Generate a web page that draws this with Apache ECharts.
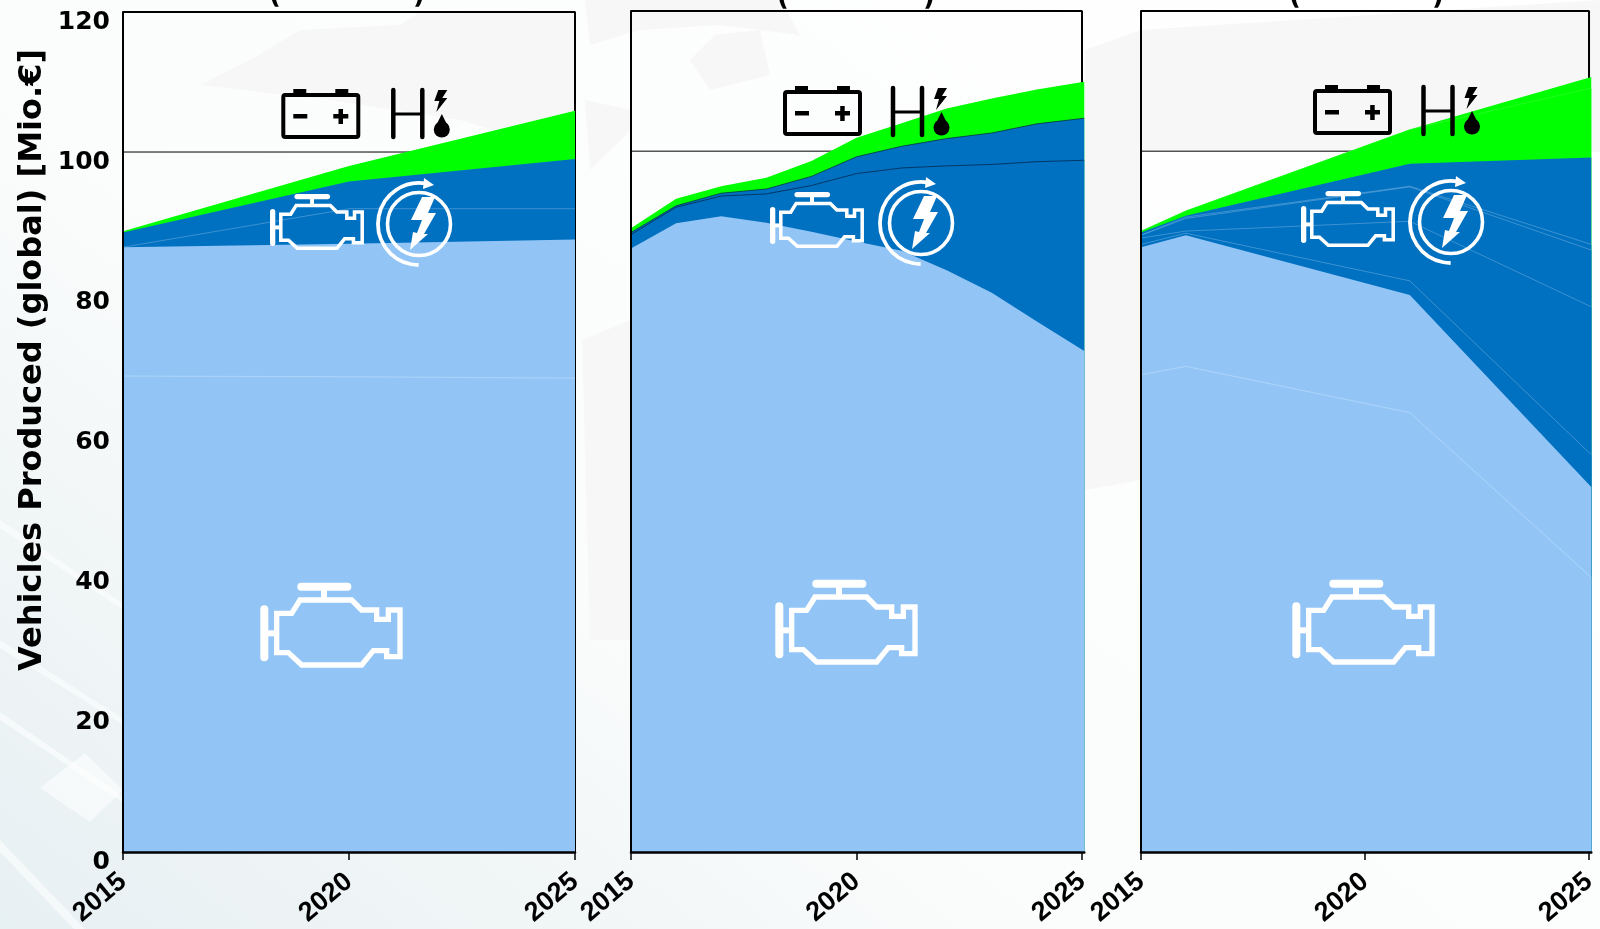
<!DOCTYPE html>
<html>
<head>
<meta charset="utf-8">
<title>Vehicles Produced</title>
<style>
  html, body { margin: 0; padding: 0; background: #fff; }
  #bg { position: absolute; left: 0; top: 0; width: 1600px; height: 929px;
    background: linear-gradient(38deg, #e7f0f3 0, #f0f5f6 18%, #fbfcfc 38%, #ffffff 100%); }
  #chart { position: absolute; left: 0; top: 0; width: 1600px; height: 929px; }
</style>
<script src="https://cdn.jsdelivr.net/npm/echarts@6/dist/echarts.min.js"></script>
</head>
<body>
<div id="bg"></div>
<div id="chart"></div>
<script>
// 2015-2025 axis, last point of the middle and right panel runs slightly past the frame
var yearsA = [2015, 2020, 2025];
var yearsB = [2015, 2016, 2017, 2018, 2019, 2020, 2021, 2022, 2023, 2024, 2025.05];
var yearsC = [2015, 2016, 2021, 2025.05];
var yearTicks = [2015, 2020, 2025];

// panel 1
var a_green = [88.7, 98.0, 105.9];
var a_hybrid = [88.5, 95.8, 99.0];
var a_hybridInner = [86.4, 91.9, 91.9];
var a_ice = [86.4, 86.9, 87.5];
var a_iceInner = [68.0, 67.9, 67.7];

// panel 2
var b_green = [89.0, 93.2, 95.0, 96.2, 98.6, 101.9, 104.0, 106.1, 107.5, 108.8, 109.9];
var b_hybrid = [88.4, 92.2, 94.0, 94.6, 96.4, 99.2, 100.7, 101.8, 102.6, 103.9, 104.7];
var b_hybridInner = [88.1, 92.0, 93.6, 93.9, 95.1, 96.8, 97.6, 97.9, 98.1, 98.5, 98.7];
var b_ice = [86.1, 89.7, 90.7, 89.8, 88.5, 87.1, 85.8, 83.0, 79.8, 75.7, 71.5];

// panel 3
var c_green = [88.6, 91.5, 103.1, 110.6];
var c_greenInner = [88.6, 91.5, 103.1, 109.0];
var c_hybrid = [88.4, 90.8, 98.2, 99.1];
var c_hybridB = [88.0, 90.6, 95.0, 86.7];
var c_hybridA = [88.0, 90.4, 94.9, 85.9];
var c_hybridC = [87.6, 88.6, 90.0, 77.8];
var c_hybridD = [86.7, 88.3, 81.5, 56.7];
var c_ice = [86.3, 88.0, 79.5, 52.1];
var c_iceInner = [68.1, 69.3, 62.7, 39.2];

var yTicks = [0, 120, 20];
var yTitle = 'Vehicles Produced (global) [Mio.€]';

var GREEN = '#00ff00', BLUE = '#0070c0', LIGHT = '#92c5f6';
var FAINT_D = 'rgba(190,220,245,.4)', FAINT_L = 'rgba(225,240,252,.45)', DARKLINE = 'rgba(0,30,60,.85)';

var panels = [
  { left: 123, right: 575, xMax: 2025, top: 12, bottom: 854, years: yearsA, labels: true, layers: [
    { v: a_green, fill: GREEN },
    { v: a_hybrid, fill: BLUE },
    { v: a_hybridInner, fill: BLUE, line: FAINT_D },
    { v: a_ice, fill: LIGHT },
    { v: a_iceInner, fill: LIGHT, line: FAINT_L }
  ]},
  { left: 631, right: 1082, xMax: 2025.05, top: 11, bottom: 852, years: yearsB, labels: false, layers: [
    { v: b_green, fill: GREEN },
    { v: b_hybrid, fill: BLUE, line: DARKLINE },
    { v: b_hybridInner, fill: BLUE, line: DARKLINE },
    { v: b_ice, fill: LIGHT }
  ]},
  { left: 1141, right: 1593, xMax: 2025.05, top: 11, bottom: 853, years: yearsC, labels: false, layers: [
    { v: c_green, fill: GREEN },
    { v: c_greenInner, fill: GREEN, line: 'rgba(120,255,120,.35)' },
    { v: c_hybrid, fill: BLUE },
    { v: c_hybridB, fill: BLUE, line: FAINT_D },
    { v: c_hybridA, fill: BLUE, line: FAINT_D },
    { v: c_hybridC, fill: BLUE, line: FAINT_D },
    { v: c_hybridD, fill: BLUE, line: FAINT_D },
    { v: c_ice, fill: LIGHT },
    { v: c_iceInner, fill: LIGHT, line: FAINT_L }
  ]}
];

var grids = [], xAxes = [], yAxes = [], series = [];

function frameLine(i, data, width) {
  return {
    type: 'line', xAxisIndex: i, yAxisIndex: i, silent: true, clip: false, z: 1,
    showSymbol: false, animation: false, data: data,
    lineStyle: { color: '#000', width: width }
  };
}

panels.forEach(function (p, i) {
  var perYear = (p.right - p.left) / 10;
  grids.push({
    left: p.left, top: p.top, width: (p.right - p.left) + (p.xMax - 2025) * perYear, height: p.bottom - p.top,
    show: false
  });
  xAxes.push({
    type: 'value', gridIndex: i, min: 2015, max: p.xMax, z: 30,
    axisLine: { show: true, lineStyle: { color: '#000', width: 2.5 } },
    axisTick: { show: true, length: 8, customValues: yearTicks, lineStyle: { color: '#000', width: 1.5 } },
    splitLine: { show: false },
    axisLabel: {
      rotate: 40, margin: 26, color: '#000', customValues: yearTicks,
      fontFamily: 'Liberation Sans', fontWeight: 'bold', fontSize: 27,
      formatter: function (v) { return String(v); }
    }
  });
  yAxes.push({
    type: 'value', gridIndex: i, min: yTicks[0], max: yTicks[1], interval: yTicks[2], z: 30,
    axisLine: { show: true, lineStyle: { color: '#000', width: 2 } },
    axisTick: { show: false },
    splitLine: { show: false },
    axisLabel: {
      show: p.labels, margin: 13, color: '#000',
      fontFamily: 'DejaVu Sans', fontWeight: 'bold', fontSize: 25,
      verticalAlign: 'top', lineHeight: 20,
      showMinLabel: true, showMaxLabel: true
    }
  });
  // frame and the 100 line sit under the areas
  series.push(frameLine(i, [[2015, 100], [2025, 100]], 1));
  series.push(frameLine(i, [[2015, 120], [2025, 120], [2025, 0]], 2));
  p.layers.forEach(function (l, k) {
    series.push({
      type: 'line', xAxisIndex: i, yAxisIndex: i, silent: true, clip: false, z: 2 + k,
      showSymbol: false, animation: false,
      data: p.years.map(function (y, n) { return [y, l.v[n]]; }),
      areaStyle: { color: l.fill, opacity: 1 },
      lineStyle: l.line ? { color: l.line, width: 0.8 } : { width: 0 }
    });
  });
});

// pictograms, in the pixel space of the zoomed crops
function icon(ox, oy, s, children) {
  children.forEach(function (c) { c.z = 50; c.silent = true; });
  return { type: 'group', x: ox, y: oy, scaleX: s, scaleY: s, children: children };
}

function engine(ox, oy, s) {
  var w = { stroke: '#fff', fill: 'none', lineWidth: 16 };
  var round = { stroke: '#fff', fill: 'none', lineWidth: 24, lineCap: 'round' };
  return icon(ox, oy, s / 3, [
    { type: 'polygon', shape: { points: [[110,160],[155,160],[180,120],[335,120],[365,150],[410,150],[410,178],[445,178],[445,150],[480,150],[480,290],[440,290],[440,272],[400,272],[365,315],[185,315],[145,278],[110,278]] }, style: w },
    { type: 'line', shape: { x1: 73, y1: 148, x2: 73, y2: 292 }, style: round },
    { type: 'line', shape: { x1: 80, y1: 220, x2: 110, y2: 220 }, style: { stroke: '#fff', lineWidth: 18 } },
    { type: 'line', shape: { x1: 184, y1: 80, x2: 322, y2: 80 }, style: round },
    { type: 'line', shape: { x1: 252, y1: 85, x2: 252, y2: 120 }, style: { stroke: '#fff', lineWidth: 18 } }
  ]);
}

function battery(ox, oy) {
  var k = { stroke: '#000', fill: 'none', lineWidth: 4 };
  return icon(ox, oy, 1, [
    { type: 'rect', shape: { x: 0, y: 0, width: 75, height: 42, r: 2 }, style: k },
    { type: 'rect', shape: { x: 10, y: -6, width: 13, height: 6 }, style: { fill: '#000' } },
    { type: 'rect', shape: { x: 52, y: -6, width: 13, height: 6 }, style: { fill: '#000' } },
    { type: 'rect', shape: { x: 10, y: 19, width: 14, height: 4.5 }, style: { fill: '#000' } },
    { type: 'rect', shape: { x: 50, y: 19, width: 15, height: 4.5 }, style: { fill: '#000' } },
    { type: 'rect', shape: { x: 55.2, y: 14, width: 4.5, height: 15 }, style: { fill: '#000' } }
  ]);
}

function hydrogen(ox, oy) {
  var k = { stroke: '#000', lineWidth: 4.5, lineCap: 'round' };
  return icon(ox, oy, 1, [
    { type: 'line', shape: { x1: 0, y1: 1, x2: 0, y2: 48 }, style: k },
    { type: 'line', shape: { x1: 29, y1: 1, x2: 29, y2: 48 }, style: k },
    { type: 'line', shape: { x1: 0, y1: 25, x2: 29, y2: 25 }, style: { stroke: '#000', lineWidth: 3 } },
    { type: 'polygon', shape: { points: [[45,1],[54,1],[49,9],[54,9],[43,23],[46,12],[41,12]] }, style: { fill: '#000' } },
    { type: 'polygon', shape: { points: [[48.5,25],[42,38],[55,38]] }, style: { fill: '#000' } },
    { type: 'circle', shape: { cx: 48.5, cy: 40.5, r: 8 }, style: { fill: '#000' } }
  ]);
}

function swirl(cx, cy) {
  var ws = { stroke: '#fff', fill: 'none', lineWidth: 3.6 };
  return icon(cx, cy, 1, [
    { type: 'circle', shape: { cx: 0, cy: 0, r: 31.5 }, style: ws },
    { type: 'arc', shape: { cx: 0, cy: 0, r: 41, startAngle: -1.38, endAngle: 1.58, clockwise: false }, style: { stroke: '#fff', fill: 'none', lineWidth: 3.8 } },
    { type: 'polygon', shape: { points: [[5,-46],[15,-39],[4,-35]] }, style: { fill: '#fff' } },
    { type: 'polygon', shape: { points: [[3,-27],[16,-27],[9,-11],[17,-11],[5,10],[9,10],[-9,26],[-6,8],[-2,9],[3,-4],[-8,-4]] }, style: { fill: '#fff' } }
  ]);
}

function paren(text, x, y) {
  return { type: 'text', x: x, y: y, z: 50, silent: true, style: {
    text: text, fill: '#000', font: 'bold 26px "DejaVu Sans"', textAlign: 'center', textVerticalAlign: 'bottom'
  }};
}

// faint background artwork
var soft = { fill: '#f7f7f7' }, streak = { fill: 'rgba(255,255,255,.55)' };
function bgPoly(points, style) {
  return { type: 'polygon', z: -5, silent: true, shape: { points: points }, style: style };
}

var graphics = [
  bgPoly([[200,85],[250,60],[300,30],[400,25],[420,12],[575,12],[575,155],[460,120],[330,100]], soft),
  bgPoly([[585,0],[780,0],[800,35],[720,25],[640,30],[590,45]], soft),
  bgPoly([[690,60],[715,35],[760,30],[770,75],[710,90]], soft),
  bgPoly([[1085,50],[1141,30],[1600,0],[1600,152],[1141,152],[1141,480],[1085,490]], soft),
  bgPoly([[582,340],[631,320],[631,640],[590,640]], soft),
  bgPoly([[585,100],[631,110],[631,130],[590,170]], soft),
  bgPoly([[40,788],[85,753],[123,790],[90,822]], streak),
  bgPoly([[0,712],[125,798],[125,804],[0,720]], streak),
  bgPoly([[0,840],[85,929],[74,929],[0,852]], streak),
  bgPoly([[0,520],[125,605],[125,611],[0,528]], streak),
  bgPoly([[0,640],[125,720],[125,726],[0,648]], streak),
  paren('(', 275, 9), paren(')', 419, 9),
  paren('(', 783, 11), paren(')', 929, 11),
  paren('(', 1295, 10), paren(')', 1438, 10),
  { type: 'text', x: 33, y: 360, rotation: Math.PI / 2, z: 50, silent: true, style: {
    text: yTitle, fill: '#000', font: 'bold 32px "DejaVu Sans"', textAlign: 'center', textVerticalAlign: 'middle'
  }},
  engine(240, 560, 1), engine(755, 557, 1), engine(1272, 557, 1),
  engine(256.6, 179, 0.66), engine(756.6, 177, 0.66), engine(1287.6, 176, 0.66),
  battery(283.3, 95), battery(785, 92), battery(1315, 91),
  hydrogen(393.3, 89), hydrogen(893, 87), hydrogen(1423.5, 86),
  swirl(419, 224), swirl(921, 223), swirl(1451, 222)
];

var chart = echarts.init(document.getElementById('chart'), null, { renderer: 'canvas' });
chart.setOption({
  animation: false,
  backgroundColor: 'transparent',
  grid: grids,
  xAxis: xAxes,
  yAxis: yAxes,
  series: series,
  graphic: graphics
});
</script>
</body>
</html>
